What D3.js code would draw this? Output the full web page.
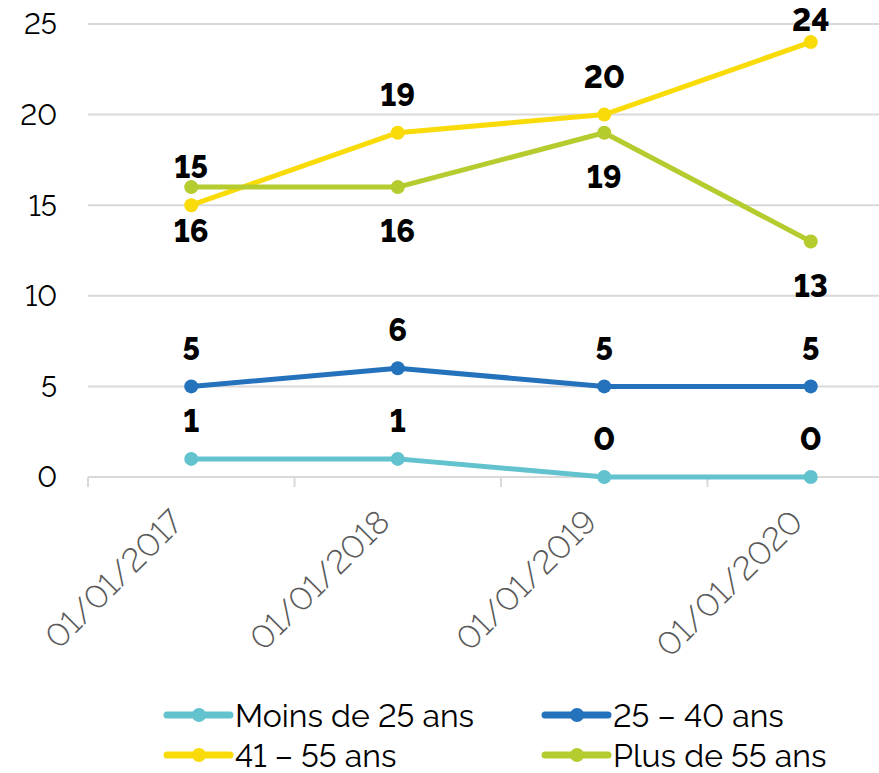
<!DOCTYPE html>
<html lang="fr">
<head>
    <meta charset="UTF-8">
    <title>Effectifs par tranche d'âge</title>
    <script src="https://cdn.jsdelivr.net/npm/d3@7"></script>
    <style>
        body {
            margin: 0;
            background: #fff;
        }

        #chart svg {
            display: block;
            font-variant-numeric: lining-nums;
            font-feature-settings: "lnum" 1;
        }
    </style>
</head>
<body>
<div id="chart"></div>

<script>
    const dates = ["01/01/2017", "01/01/2018", "01/01/2019", "01/01/2020"]
    const seriesNames = ["Moins de 25 ans", "25 – 40 ans", "41 – 55 ans", "Plus de 55 ans"]
    const moins25 = [1, 1, 0, 0]
    const de25a40 = [5, 6, 5, 5]
    const de41a55 = [15, 19, 20, 24]
    const plus55 = [16, 16, 19, 13]
    const yTicks = [0, 5, 10, 15, 20, 25]

    const colors = ["#62c3ce", "#2471bc", "#fadb0a", "#b5cb2e"]
    // excel placed the green labels under the points, the others above
    const labelSide = ["above", "above", "above", "below"]

    const width = 879
    const height = 773
    const font = "Raleway, Lato, 'Open Sans', sans-serif"

    const series = [moins25, de25a40, de41a55, plus55].map((values, i) => ({
        name: seriesNames[i],
        values: values,
        color: colors[i],
        side: labelSide[i]
    }))

    const x = d3.scaleBand()
        .domain(dates)
        .range([88, 914])

    const y = d3.scaleLinear()
        .domain([0, 25])
        .range([477, 24])

    const svg = d3.select("#chart").append("svg")
        .attr("width", width)
        .attr("height", height)

    // horizontal grid
    svg.append("g")
        .selectAll("line")
        .data(yTicks.filter((d) => d > 0))
        .enter().append("line")
        .attr("x1", 88)
        .attr("x2", width)
        .attr("y1", (d) => y(d))
        .attr("y2", (d) => y(d))
        .attr("stroke", "#d9d9d9")
        .attr("stroke-width", 2)

    // y labels
    svg.append("g")
        .selectAll("text")
        .data(yTicks)
        .enter().append("text")
        .text((d) => d)
        .attr("x", 57)
        .attr("y", (d) => y(d))
        .attr("dy", "0.36em")
        .style("text-anchor", "end")
        .style("font-family", font)
        .style("font-size", "29px")
        .style("fill", "#000")

    // x axis
    const xAxis = d3.axisBottom(x)
        .tickSize(10)
        .tickSizeOuter(0)
        .tickFormat("")

    const xAxisG = svg.append("g")
        .attr("transform", `translate(0, ${y(0)})`)
        .call(xAxis)

    xAxisG.select(".domain")
        .attr("d", `M88,0H${width}`)
        .attr("stroke", "#d9d9d9")
        .attr("stroke-width", 2)

    xAxisG.selectAll(".tick line")
        .attr("stroke", "#d9d9d9")
        .attr("stroke-width", 2)
        .attr("transform", `translate(${-x.bandwidth() / 2}, 0)`)

    svg.append("g")
        .selectAll("text")
        .data(dates)
        .enter().append("text")
        .text((d) => d)
        .attr("transform", (d) => `translate(${x(d) + x.bandwidth() / 2 - 6}, 524) rotate(-45)`)
        .style("text-anchor", "end")
        .style("font-family", font)
        .style("font-weight", 300)
        .style("font-size", "33px")
        .style("fill", "#595959")

    const line = d3.line()
        .x((d, i) => x(dates[i]) + x.bandwidth() / 2)
        .y((d) => y(d))

    const seriesG = svg.append("g")
        .selectAll("g")
        .data(series)
        .enter().append("g")

    seriesG.append("path")
        .attr("d", (d) => line(d.values))
        .attr("fill", "none")
        .attr("stroke", (d) => d.color)
        .attr("stroke-width", 5)
        .attr("stroke-linejoin", "round")

    seriesG.selectAll("circle")
        .data((d) => d.values.map((v, i) => ({ v: v, i: i, color: d.color })))
        .enter().append("circle")
        .attr("cx", (d) => x(dates[d.i]) + x.bandwidth() / 2)
        .attr("cy", (d) => y(d.v))
        .attr("r", 7)
        .attr("fill", (d) => d.color)

    // data labels on top of every line
    svg.append("g")
        .selectAll("text")
        .data(series.flatMap((s) => s.values.map((v, i) => ({ v: v, i: i, side: s.side }))))
        .enter().append("text")
        .text((d) => d.v)
        .attr("x", (d) => x(dates[d.i]) + x.bandwidth() / 2)
        .attr("y", (d) => {
            const c = d.side === "above" ? y(d.v) - 38 : y(d.v) + 44
            return Math.max(c, 20)
        })
        .attr("dy", "0.36em")
        .style("text-anchor", "middle")
        .style("font-family", font)
        .style("font-weight", 800)
        .style("font-size", "31px")
        .style("fill", "#000")

    // legend
    const legendPos = [[167, 715], [545, 715], [167, 755], [545, 755]]

    const legend = svg.append("g")
        .selectAll("g")
        .data(series)
        .enter().append("g")
        .attr("transform", (d, i) => `translate(${legendPos[i][0]}, ${legendPos[i][1]})`)

    legend.append("line")
        .attr("x1", 0)
        .attr("x2", 63)
        .attr("stroke", (d) => d.color)
        .attr("stroke-width", 7)
        .attr("stroke-linecap", "round")

    legend.append("circle")
        .attr("cx", 32)
        .attr("r", 7)
        .attr("fill", (d) => d.color)

    legend.append("text")
        .text((d) => d.name)
        .attr("x", 68)
        .attr("dy", "0.36em")
        .style("font-family", font)
        .style("font-size", "32px")
        .style("fill", "#000")
</script>
</body>
</html>
